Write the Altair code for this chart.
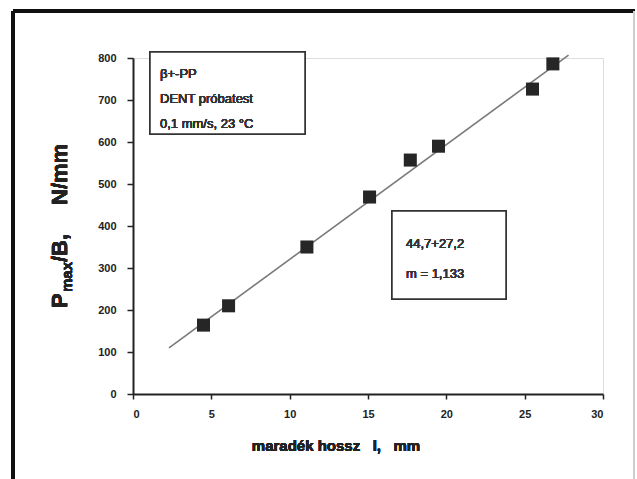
import altair as alt
import pandas as pd

# data
l_mm = [4.5, 6.1, 11.1, 15.1, 17.7, 19.5, 25.5, 26.8]
p_per_b = [164, 210, 350, 469, 557, 590, 726, 786]
fit_l = [2.3, 27.8]
fit_p = [110, 807]
x_ticks = [0, 2.5, 5, 7.5, 10, 12.5, 15, 17.5, 20, 22.5, 25, 27.5, 30]
y_ticks = [0, 50, 100, 150, 200, 250, 300, 350, 400, 450, 500, 550, 600, 650, 700, 750, 800]

pts = pd.DataFrame({"l": l_mm, "p": p_per_b})
fit = pd.DataFrame({"l": fit_l, "p": fit_p})

FONT = "Liberation Sans"
NB = "\u00a0"

xs = alt.Scale(domain=[0, 30], nice=False, zero=False)
ys = alt.Scale(domain=[0, 800], nice=False)

xax = alt.Axis(values=x_ticks, labelExpr="datum.value % 5 == 0 ? datum.label : ''",
               title=None, grid=False, tickSize=5, labelPadding=9,
               labelFontSize=11, labelFontWeight="bold", labelFont=FONT,
               domainColor="#222", domainWidth=2, tickColor="#222", tickWidth=1.5,
               labelColor="#222")
yax = alt.Axis(values=y_ticks, labelExpr="datum.value % 100 == 0 ? datum.label : ''",
               title=None, grid=False, tickSize=6, labelPadding=11,
               labelFontSize=11, labelFontWeight="bold", labelFont=FONT,
               domainColor="#222", domainWidth=2, tickColor="#222", tickWidth=1.5,
               labelColor="#222")

line = alt.Chart(fit).mark_line(color="#7a7a7a", strokeWidth=1.6).encode(
    x=alt.X("l:Q", scale=xs, axis=xax),
    y=alt.Y("p:Q", scale=ys, axis=yax),
)
points = alt.Chart(pts).mark_point(shape="square", filled=True, size=170,
                                   color="#262626", opacity=1).encode(
    x=alt.X("l:Q", scale=xs),
    y=alt.Y("p:Q", scale=ys),
)

def rule(x, x2, y, y2, color="#111", w=3):
    return alt.Chart(pts).mark_rule(color=color, strokeWidth=w).encode(
        x=alt.value(x), x2=alt.value(x2), y=alt.value(y), y2=alt.value(y2))

def box(x, x2, y, y2):
    return alt.Chart(pts).mark_rect(fill="white", stroke="#333", strokeWidth=1.5).encode(
        x=alt.value(x), x2=alt.value(x2), y=alt.value(y), y2=alt.value(y2))

def txt(s, x, y, size=13, weight=400, angle=0, align="left", baseline="middle", color="#333"):
    kw = dict(font=FONT, fontSize=size, fontWeight=weight, color=color,
              align=align, baseline=baseline)
    if angle:
        kw["angle"] = angle
    return alt.Chart(pts).mark_text(**kw).encode(
        x=alt.value(x), y=alt.value(y), text=alt.value(s))

frame = (rule(-120, 502, -47, -47) + rule(-120, -120, -47, 430)
         + rule(501, 501, -47, 430, color="#ccc", w=1))

annot = (
    box(17, 172, -6, 76)
    + txt("β+-PP", 27, 16)
    + txt("DENT próbatest", 27, 41)
    + txt("0,1 mm/s, 23 °C", 27, 66)
    + box(259, 373, 153, 241)
    + txt("44,7+27,2", 273, 186)
    + txt("m = 1,133", 273, 216)
    + txt("maradék hossz" + NB * 3 + "l," + NB * 3 + "mm", 203, 388, size=15,
          weight="bold", align="center", color="#222")
    + txt("P", -66, 250, size=22, weight="bold", angle=270, baseline="alphabetic", color="#222")
    + txt("max", -61, 234, size=15, weight="bold", angle=270, baseline="alphabetic", color="#222")
    + txt("/B,", -66, 204, size=22, weight="bold", angle=270, baseline="alphabetic", color="#222")
    + txt("N/mm", -66, 147, size=22, weight="bold", angle=270, baseline="alphabetic", color="#222")
)

chart = alt.layer(frame, line, points, annot).properties(
    width=470, height=336,
    autosize=alt.AutoSizeParams(type="none"),
    padding={"left": 133, "top": 58, "right": 34, "bottom": 85},
).configure_view(stroke=None).configure(background="white")

chart.save("out.html", embed_options={"renderer": "svg", "actions": False})
